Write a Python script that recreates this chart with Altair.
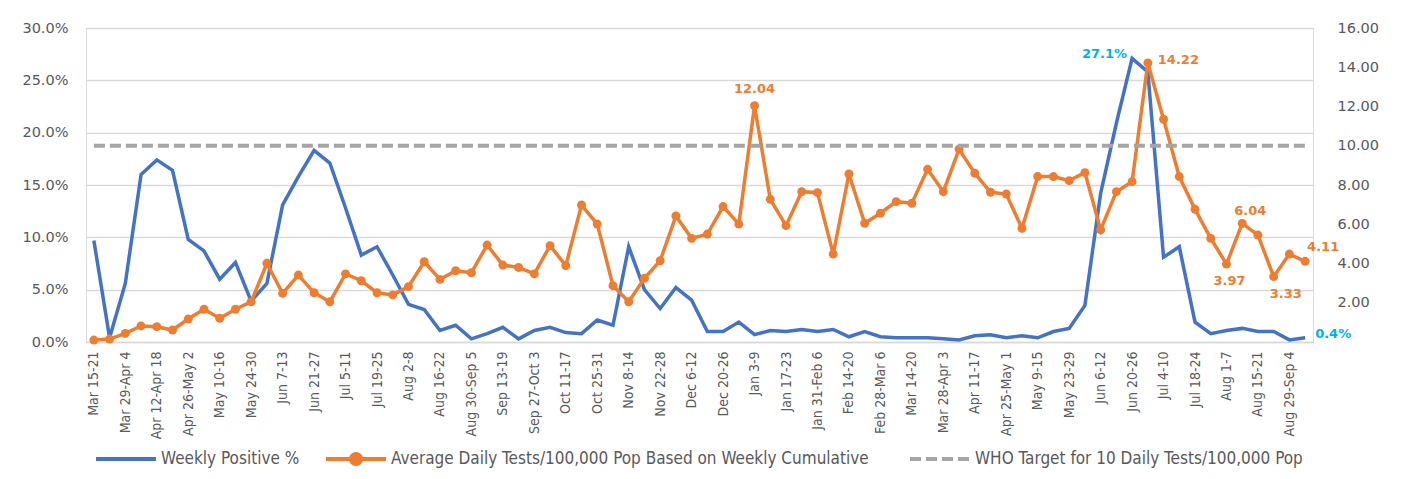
import altair as alt
import pandas as pd

weeks = [
    "Mar 15-21", "Mar 22-28", "Mar 29-Apr 4", "Apr 5-11", "Apr 12-Apr 18", "Apr 19-25",
    "Apr 26-May 2", "May 3-9", "May 10-16", "May 17-23", "May 24-30", "May 31-Jun 6",
    "Jun 7-13", "Jun 14-20", "Jun 21-27", "Jun 28-Jul 4", "Jul 5-11", "Jul 12-18",
    "Jul 19-25", "Jul 26-Aug 1", "Aug 2-8", "Aug 9-15", "Aug 16-22", "Aug 23-29",
    "Aug 30-Sep 5", "Sep 6-12", "Sep 13-19", "Sep 20-26", "Sep 27-Oct 3", "Oct 4-10",
    "Oct 11-17", "Oct 18-24", "Oct 25-31", "Nov 1-7", "Nov 8-14", "Nov 15-21",
    "Nov 22-28", "Nov 29-Dec 5", "Dec 6-12", "Dec 13-19", "Dec 20-26", "Dec 27-Jan 2",
    "Jan 3-9", "Jan 10-16", "Jan 17-23", "Jan 24-30", "Jan 31-Feb 6", "Feb 7-13",
    "Feb 14-20", "Feb 21-27", "Feb 28-Mar 6", "Mar 7-13", "Mar 14-20", "Mar 21-27",
    "Mar 28-Apr 3", "Apr 4-10", "Apr 11-17", "Apr 18-24", "Apr 25-May 1", "May 2-8",
    "May 9-15", "May 16-22", "May 23-29", "May 30-Jun 5", "Jun 6-12", "Jun 13-19",
    "Jun 20-26", "Jun 27-Jul 3", "Jul 4-10", "Jul 11-17", "Jul 18-24", "Jul 25-31",
    "Aug 1-7", "Aug 8-14", "Aug 15-21", "Aug 22-28", "Aug 29-Sep 4", "Sep 5-11",
]

# Weekly positive % (percent)
positive_pct = [
    9.7, 0.4, 5.6, 16.0, 17.4, 16.4, 9.8, 8.7, 6.0, 7.6, 3.9, 5.6,
    13.1, 15.8, 18.3, 17.1, 12.8, 8.3, 9.1, 6.4, 3.6, 3.1, 1.1, 1.6,
    0.3, 0.8, 1.4, 0.3, 1.1, 1.4, 0.9, 0.8, 2.1, 1.6, 9.1, 5.0,
    3.2, 5.2, 4.0, 1.0, 1.0, 1.9, 0.7, 1.1, 1.0, 1.2, 1.0, 1.2,
    0.5, 1.0, 0.5, 0.4, 0.4, 0.4, 0.3, 0.2, 0.6, 0.7, 0.4, 0.6,
    0.4, 1.0, 1.3, 3.5, 14.2, 20.9, 27.1, 25.8, 8.1, 9.1, 1.9, 0.8,
    1.1, 1.3, 1.0, 1.0, 0.2, 0.4,
]

# Average daily tests / 100,000 pop
daily_tests = [
    0.10, 0.15, 0.44, 0.82, 0.78, 0.61, 1.17, 1.67, 1.21, 1.67, 2.05, 4.01,
    2.48, 3.41, 2.51, 2.05, 3.47, 3.12, 2.51, 2.40, 2.82, 4.09, 3.19, 3.63,
    3.53, 4.94, 3.92, 3.80, 3.47, 4.91, 3.89, 6.98, 6.01, 2.87, 2.05, 3.25,
    4.14, 6.42, 5.28, 5.50, 6.90, 6.01, 12.04, 7.27, 5.93, 7.66, 7.61, 4.48,
    8.56, 6.05, 6.56, 7.15, 7.07, 8.80, 7.66, 9.82, 8.60, 7.63, 7.54, 5.79,
    8.43, 8.43, 8.22, 8.63, 5.71, 7.66, 8.17, 14.22, 11.35, 8.43, 6.76, 5.28,
    3.97, 6.04, 5.45, 3.33, 4.48, 4.11,
]

who_target = 10

series_names = [
    "Weekly Positive %",
    "Average Daily Tests/100,000 Pop Based on Weekly Cumulative",
    "WHO Target for 10 Daily Tests/100,000 Pop",
]

BLUE = "#4472C4"
ORANGE = "#ED7D31"
GRAY = "#A5A5A5"
CYAN = "#00B0F0"
TXT = "#595959"
GRID = "#D9D9D9"
LEG_FONT = "DejaVu Sans Condensed, Liberation Sans Narrow, Liberation Sans"
AX_FONT = "DejaVu Sans"

df = pd.DataFrame({
    "idx": list(range(len(weeks))),
    "week": weeks,
    "pos": [v / 100 for v in positive_pct],
    "tests": daily_tests,
    "s_pos": series_names[0],
    "s_tests": series_names[1],
})
df_target = pd.DataFrame({
    "week": [weeks[0]], "end": [weeks[-1]], "target": [who_target], "s_who": [series_names[2]],
})

xscale = alt.Scale(type="point", domain=weeks, padding=0.5)
xaxis = alt.Axis(
    values=weeks[::2], labelAngle=-90, labelFont=LEG_FONT, labelFontSize=14,
    labelColor=TXT, labelOverlap=False, ticks=False, domain=True, domainColor=GRID,
    domainWidth=1.5, labelPadding=9, title=None, grid=False, labelBound=False,
)
X = alt.X("week:N", scale=xscale, axis=xaxis, title=None)

left_scale = alt.Scale(domain=[0, 0.30], nice=False, zero=True)
right_scale = alt.Scale(domain=[0, 16], nice=False, zero=True)

base = alt.Chart(df)

def legend(x, **kw):
    return alt.Legend(
        title=None, orient="none", legendX=x, legendY=399, direction="horizontal",
        symbolSize=3600, symbolStrokeWidth=4, labelFont=LEG_FONT, labelFontSize=17,
        labelColor=TXT, labelOffset=3, padding=0, labelLimit=700, **kw,
    )

blue_line = base.mark_line(strokeWidth=3.5).encode(
    x=X,
    y=alt.Y("pos:Q", scale=left_scale, axis=alt.Axis(
        orient="left", values=[0, 0.05, 0.10, 0.15, 0.20, 0.25, 0.30], format=".1%",
        labelFont=AX_FONT, labelFontSize=14.5, labelColor=TXT, grid=True, gridColor=GRID,
        gridWidth=1.5, domain=False, ticks=False, labelPadding=18, title=None)),
    color=alt.Color("s_pos:N", scale=alt.Scale(domain=[series_names[0]], range=[BLUE]),
                    legend=legend(8, symbolType="stroke")),
)

orange_line = base.mark_line(
    strokeWidth=3.5,
    point=alt.OverlayMarkDef(filled=True, size=80, color=ORANGE, opacity=1),
).encode(
    x=X,
    y=alt.Y("tests:Q", scale=right_scale, axis=alt.Axis(
        orient="right", values=list(range(2, 17, 2)), format=".2f",
        labelFont=AX_FONT, labelFontSize=14.5, labelColor=TXT, grid=False,
        domain=False, ticks=False, labelPadding=24, title=None)),
    color=alt.Color("s_tests:N", scale=alt.Scale(domain=[series_names[1]], range=[ORANGE]),
                    legend=legend(238, symbolType="M-1,0H1M-0.17,0A0.17,0.17,0,1,1,0.17,0A0.17,0.17,0,1,1,-0.17,0",
                                  symbolFillColor=ORANGE)),
)

who_rule = alt.Chart(df_target).mark_rule(strokeWidth=4, strokeDash=[11, 5]).encode(
    x=X,
    x2="end:N",
    y=alt.Y("target:Q", scale=right_scale, axis=None),
    color=alt.Color("s_who:N", scale=alt.Scale(domain=[series_names[2]], range=[GRAY]),
                    legend=legend(822, symbolType="stroke", symbolDash=[11, 5])),
)

frame = alt.Chart(df_target).mark_rule(color=GRID, strokeWidth=2).encode(
    x=alt.value(1314), y=alt.value(-23), y2=alt.value(460),
)

def label(idx, field, scale, fmt, color, dx=0, dy=0, align="center"):
    return base.transform_filter(alt.datum.idx == idx).mark_text(
        font=AX_FONT, fontSize=13, fontWeight="bold", color=color,
        dx=dx, dy=dy, align=align, baseline="middle",
    ).encode(
        x=X,
        y=alt.Y(f"{field}:Q", scale=scale, axis=None),
        text=alt.Text(f"{field}:Q", format=fmt),
    )

labels = [
    label(66, "pos", left_scale, ".1%", CYAN, dx=-5, dy=-4, align="right"),
    label(77, "pos", left_scale, ".1%", CYAN, dx=10, dy=-4, align="left"),
    label(42, "tests", right_scale, ".2f", ORANGE, dy=-17),
    label(67, "tests", right_scale, ".2f", ORANGE, dx=10, dy=-3, align="left"),
    label(72, "tests", right_scale, ".2f", ORANGE, dx=3, dy=17),
    label(73, "tests", right_scale, ".2f", ORANGE, dx=8, dy=-12),
    label(75, "tests", right_scale, ".2f", ORANGE, dx=12, dy=17),
    label(77, "tests", right_scale, ".2f", ORANGE, dx=18, dy=-14),
]

chart = alt.layer(blue_line, orange_line, who_rule, *labels, frame).resolve_scale(
    y="independent", color="independent"
).properties(
    width=1227, height=314, autosize="none",
    padding={"left": 78, "top": 20, "right": 86, "bottom": 126},
).configure_view(stroke=None).configure(background="white")

chart.save("out.html", embed_options={"renderer": "svg", "actions": False})
